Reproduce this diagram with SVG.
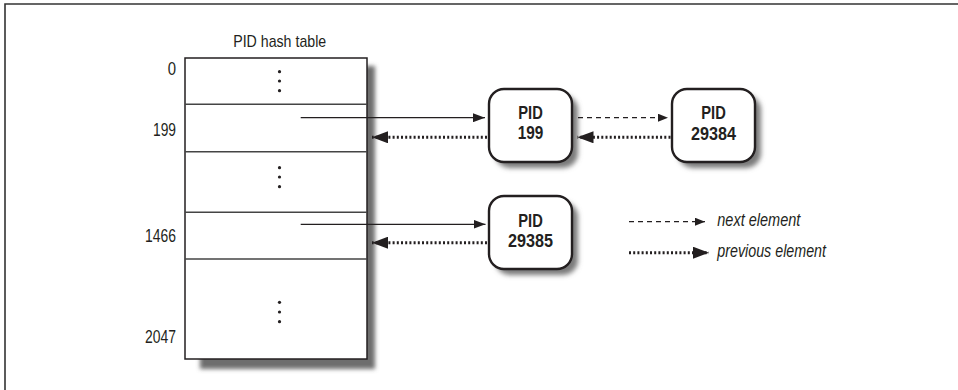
<svg xmlns="http://www.w3.org/2000/svg" width="958" height="390" viewBox="0 0 958 390">
<defs>
<style>
text{font-family:"Liberation Sans",Arial,sans-serif;fill:#231f20}
.lbl{font-size:18.5px}
.node{fill:#fff;stroke:#231f20;stroke-width:2.4}
.shadow{fill:#7a7a7a;filter:url(#blur)}
.tshadow{fill:#6e6e6e;filter:url(#blur2)}
.nt{font-size:18.5px;font-weight:bold;text-anchor:middle}
.leg{font-size:18px;font-style:italic}
.solid{stroke:#231f20;stroke-width:1.3;fill:none;marker-end:url(#hSolid)}
.dash{stroke:#231f20;stroke-width:1.2;fill:none;stroke-dasharray:5 4;marker-end:url(#hDash)}
.dot{stroke:#231f20;stroke-width:3;fill:none;stroke-dasharray:2 2.2;marker-end:url(#hDot)}
.row{stroke:#444;stroke-width:1.5}
</style>
<filter id="blur" x="-20%" y="-20%" width="140%" height="140%"><feGaussianBlur stdDeviation="2.6"/></filter>
<filter id="blur2" x="-20%" y="-20%" width="140%" height="140%"><feGaussianBlur stdDeviation="2"/></filter>
<marker id="hSolid" viewBox="0 0 12 9" refX="12" refY="4.5" markerWidth="12" markerHeight="9" markerUnits="userSpaceOnUse" orient="auto"><path d="M0,0 L12,4.5 L0,9 z" fill="#231f20"/></marker>
<marker id="hDash" viewBox="0 0 10 8" refX="10" refY="4" markerWidth="10" markerHeight="8" markerUnits="userSpaceOnUse" orient="auto"><path d="M0,0 L10,4 L0,8 z" fill="#231f20"/></marker>
<marker id="hDot" viewBox="0 0 16 12" refX="16" refY="6" markerWidth="16" markerHeight="12" markerUnits="userSpaceOnUse" orient="auto"><path d="M0,0 L16,6 L0,12 z" fill="#231f20"/></marker>
</defs>
<rect width="958" height="390" fill="#fff"/>
<path d="M5,390 V4 H958" fill="none" stroke="#333" stroke-width="1.6"/>

<g id="hash-table">
<text x="279.7" y="47" font-size="17" text-anchor="middle" textLength="93" lengthAdjust="spacingAndGlyphs">PID hash table</text>
<rect class="tshadow" x="200" y="66" width="175" height="303"/>
<rect x="185" y="58" width="182" height="301" fill="#fff" stroke="#231f20" stroke-width="1.5"/>
<line class="row" x1="185" y1="104.3" x2="367" y2="104.3"/>
<line class="row" x1="185" y1="151.7" x2="367" y2="151.7"/>
<line class="row" x1="185" y1="212.3" x2="367" y2="212.3"/>
<line class="row" x1="185" y1="259" x2="367" y2="259"/>
<g fill="#231f20">
<circle cx="279.5" cy="71.7" r="1.6"/><circle cx="279.5" cy="81" r="1.6"/><circle cx="279.5" cy="90.7" r="1.6"/>
<circle cx="279.5" cy="167.7" r="1.6"/><circle cx="279.5" cy="177" r="1.6"/><circle cx="279.5" cy="186.7" r="1.6"/>
<circle cx="279.5" cy="302.3" r="1.6"/><circle cx="279.5" cy="312" r="1.6"/><circle cx="279.5" cy="321.7" r="1.6"/>
</g>
<text class="lbl" x="176" y="75" text-anchor="end" textLength="8.3" lengthAdjust="spacingAndGlyphs">0</text>
<text class="lbl" x="176" y="136" text-anchor="end" textLength="23" lengthAdjust="spacingAndGlyphs">199</text>
<text class="lbl" x="176" y="242" text-anchor="end" textLength="31" lengthAdjust="spacingAndGlyphs">1466</text>
<text class="lbl" x="176" y="343" text-anchor="end" textLength="31" lengthAdjust="spacingAndGlyphs">2047</text>
</g>

<g id="pid-199">
<rect class="shadow" x="495" y="95" width="83" height="73" rx="15"/>
<rect class="node" x="489" y="89" width="83" height="73" rx="15"/>
<text class="nt" x="530.5" y="118.5" textLength="24.5" lengthAdjust="spacingAndGlyphs">PID</text>
<text class="nt" x="530.5" y="139.3" textLength="25.6" lengthAdjust="spacingAndGlyphs">199</text>
</g>

<g id="pid-29384">
<rect class="shadow" x="678" y="95" width="83" height="73" rx="15"/>
<rect class="node" x="672" y="89" width="83" height="73" rx="15"/>
<text class="nt" x="713.5" y="119" textLength="24.5" lengthAdjust="spacingAndGlyphs">PID</text>
<text class="nt" x="713.5" y="139.5" textLength="45" lengthAdjust="spacingAndGlyphs">29384</text>
</g>

<g id="pid-29385">
<rect class="shadow" x="495" y="202" width="83" height="73" rx="15"/>
<rect class="node" x="489" y="196" width="83" height="73" rx="15"/>
<text class="nt" x="530.5" y="227" textLength="24.5" lengthAdjust="spacingAndGlyphs">PID</text>
<text class="nt" x="530.5" y="247" textLength="45" lengthAdjust="spacingAndGlyphs">29385</text>
</g>

<g id="connectors">
<path class="solid" d="M300.7,117.7 H485"/>
<path class="dot" d="M487,137.3 H372"/>
<path class="dash" d="M578,117.7 H668"/>
<path class="dot" d="M670.5,137.3 H577.5"/>
<path class="solid" d="M300.7,224.3 H485.5"/>
<path class="dot" d="M487,242.7 H372"/>
</g>

<g id="legend">
<path class="dash" d="M629,221.7 H705"/>
<path class="dot" d="M629,252.7 H709"/>
<text class="leg" x="717.3" y="226" textLength="83" lengthAdjust="spacingAndGlyphs">next element</text>
<text class="leg" x="717.3" y="257" textLength="108.7" lengthAdjust="spacingAndGlyphs">previous element</text>
</g>
</svg>
